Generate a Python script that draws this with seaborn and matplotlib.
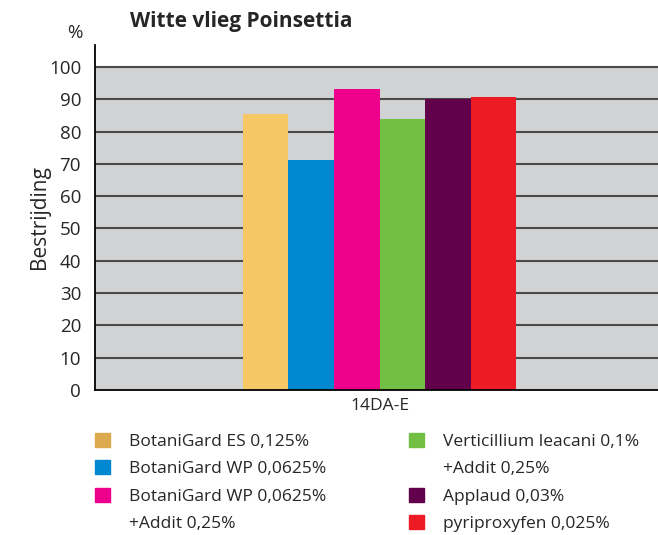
import pandas as pd
import seaborn as sns
import matplotlib.pyplot as plt
from matplotlib.patches import Patch

# data
category = ["14DA-E"]
treatments = ["BotaniGard ES 0,125%", "BotaniGard WP 0,0625%",
              "BotaniGard WP 0,0625% +Addit 0,25%",
              "Verticillium leacani 0,1% +Addit 0,25%",
              "Applaud 0,03%", "pyriproxyfen 0,025%"]
bestrijding = [85.5, 71.2, 93.2, 83.9, 90.1, 90.7]
bar_colors = ["#f5c865", "#0089d0", "#ec008c", "#72bf44", "#62004b", "#ed1c24"]
legend_colors = ["#dcaa4c", "#0089d0", "#ec008c", "#72bf44", "#62004b", "#ed1c24"]
yticks = list(range(0, 101, 10))

data = pd.DataFrame({"cat": category * len(treatments),
                     "treatment": treatments,
                     "value": bestrijding})

sns.set_style("white")
plt.rcParams['font.family'] = ['Open Sans', 'DejaVu Sans']

f = plt.figure(figsize=(6.58, 5.35), dpi=100)
ax = f.add_axes([95 / 658, 1 - 390 / 535, 569 / 658, 345 / 535])

ax.axhspan(0, 100, color="#d1d2d4", zorder=0, lw=0)
sns.barplot(data, x="cat", y="value", hue="treatment", palette=bar_colors,
            width=0.48, gap=0, saturation=1, legend=False, linewidth=0,
            ax=ax, zorder=2)

ax.set_ylim(0, 106.8)
ax.set_xlim(-0.5, 0.5)
ax.set_yticks(yticks)
ax.set_yticklabels([str(t) for t in yticks], fontsize=13.5)
ax.tick_params(axis="y", length=0, pad=10)
ax.tick_params(axis="x", length=0, pad=6, labelsize=12.5)
for t in yticks[1:]:
    ax.axhline(t, color="#4a4a4a", lw=1.5, zorder=1)

for s in ["top", "right"]:
    ax.spines[s].set_visible(False)
ax.spines["left"].set_color("black")
ax.spines["left"].set_linewidth(1.3)
ax.spines["bottom"].set_color("black")
ax.spines["bottom"].set_linewidth(1.3)

ax.set_xlabel("")
ax.set_ylabel("Bestrijding", fontsize=15, labelpad=-1)
f.text(75 / 658, 1 - 33 / 535, "%", fontsize=13.5, ha="center", va="center")
f.text(130 / 658, 1 - 22 / 535, "Witte vlieg Poinsettia", fontsize=15,
       fontweight="bold", ha="left", va="center")

# legend: 2 columns, 4 rows, continuation lines get an empty handle
blank = Patch(facecolor="none", edgecolor="none")
leg_labels = ["BotaniGard ES 0,125%", "BotaniGard WP 0,0625%",
              "BotaniGard WP 0,0625%", "+Addit 0,25%",
              "Verticillium leacani 0,1%", "+Addit 0,25%",
              "Applaud 0,03%", "pyriproxyfen 0,025%"]
leg_handles = [Patch(color=legend_colors[0]), Patch(color=legend_colors[1]),
               Patch(color=legend_colors[2]), blank,
               Patch(color=legend_colors[3]), blank,
               Patch(color=legend_colors[4]), Patch(color=legend_colors[5])]
f.legend(handles=leg_handles, labels=leg_labels, ncol=2, frameon=False,
         loc="upper left", bbox_to_anchor=(95 / 658, 1 - 433 / 535),
         prop={'size': 12.5}, handlelength=0.86, handleheight=0.86,
         handletextpad=1.1, columnspacing=4.75, labelspacing=0.6,
         borderpad=0, borderaxespad=0)

f.savefig("out.png", dpi=100)
